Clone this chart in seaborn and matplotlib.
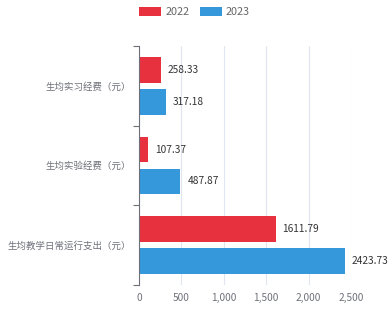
import matplotlib
matplotlib.use("Agg")
import matplotlib.pyplot as plt
import seaborn as sns
import pandas as pd
from matplotlib.patches import Patch

categories = ["生均实习经费（元）", "生均实验经费（元）", "生均教学日常运行支出（元）"]
years = ["2022", "2023"]
values_2022 = [258.33, 107.37, 1611.79]
values_2023 = [317.18, 487.87, 2423.73]
x_ticks = [0, 500, 1000, 1500, 2000, 2500]
x_tick_labels = ["0", "500", "1,000", "1,500", "2,000", "2,500"]

colors = {"2022": "#E8313F", "2023": "#3498DB"}

df = pd.DataFrame({
    "category": categories * 2,
    "year": [years[0]] * 3 + [years[1]] * 3,
    "value": values_2022 + values_2023,
})

sns.set_theme(style="white")
plt.rcParams["font.family"] = ["Noto Sans CJK SC", "DejaVu Sans"]

fig = plt.figure(figsize=(3.89, 3.11), dpi=100)
ax = fig.add_axes([139/389, 1-285/311, (351-139)/389, (285-46)/311])

sns.barplot(data=df, y="category", x="value", hue="year", order=categories,
            hue_order=years, palette=colors, orient="h", width=0.8, gap=0.19,
            saturation=1, edgecolor="none", ax=ax, legend=False)

for c in ax.containers:
    ax.bar_label(c, labels=[f"{v:.2f}" for v in c.datavalues], padding=5,
                 fontsize=7.3, color="#333333")

ax.set_xlim(0, 2500)
ax.set_ylim(2.5, -0.5)
ax.set_xticks(x_ticks)
ax.set_xticklabels(x_tick_labels, fontsize=7.3, color="#6E7079")
ax.tick_params(axis="x", length=0, pad=6)
ax.xaxis.grid(True, color="#E0E6F1", linewidth=0.8)
ax.set_axisbelow(True)

ax.set_yticks([-0.5, 0.5, 1.5, 2.5])
ax.set_yticklabels([])
ax.set_yticks([0, 1, 2], minor=True)
ax.set_yticklabels(categories, minor=True, fontsize=6.8, color="#6E7079")
ax.tick_params(axis="y", which="major", length=4, width=0.8, color="#6E7079", left=True)
ax.tick_params(axis="y", which="minor", length=0, pad=6)

ax.set_xlabel("")
ax.set_ylabel("")
for s in ["top", "right", "bottom"]:
    ax.spines[s].set_visible(False)
ax.spines["left"].set_color("#6E7079")
ax.spines["left"].set_linewidth(0.8)

handles = [Patch(facecolor=colors[y], edgecolor="none", label=y) for y in years]
fig.legend(handles=handles, loc="upper center", bbox_to_anchor=(0.5, 1.01), ncol=2,
           frameon=False, fontsize=7.8, handlelength=2.0, handleheight=1.0,
           columnspacing=1.0, handletextpad=0.4, labelcolor="#666666")

fig.savefig("out.png", dpi=100)
